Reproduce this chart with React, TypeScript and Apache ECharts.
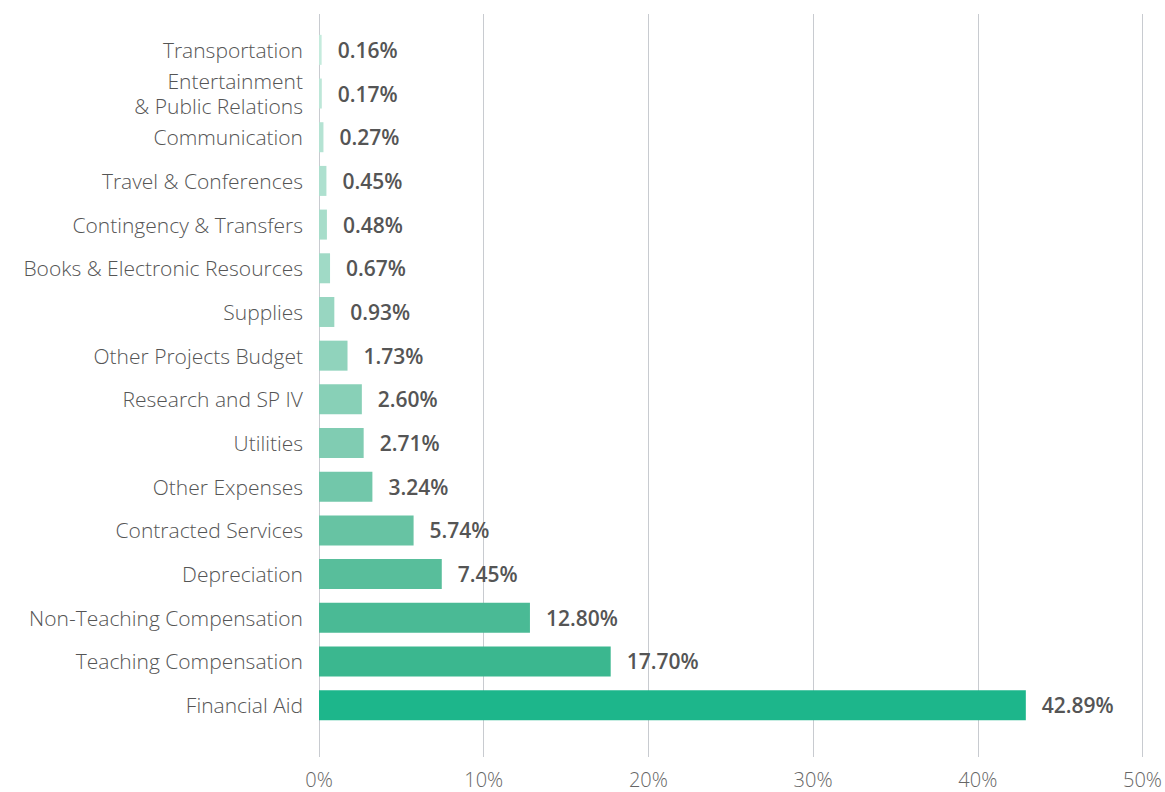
import React, { useEffect, useRef } from "react";
import * as echarts from "echarts";

const categories = [
  "Transportation",
  "Entertainment\n& Public Relations",
  "Communication",
  "Travel & Conferences",
  "Contingency & Transfers",
  "Books & Electronic Resources",
  "Supplies",
  "Other Projects Budget",
  "Research and SP IV",
  "Utilities",
  "Other Expenses",
  "Contracted Services",
  "Depreciation",
  "Non-Teaching Compensation",
  "Teaching Compensation",
  "Financial Aid",
];

const values = [0.16, 0.17, 0.27, 0.45, 0.48, 0.67, 0.93, 1.73, 2.6, 2.71, 3.24, 5.74, 7.45, 12.8, 17.7, 42.89];

const barColors = [
  "#c5ebdd", "#bde7d8", "#b5e3d3", "#aee0cf", "#a7ddca", "#a0dac6", "#98d6c1", "#90d3bc",
  "#88d0b7", "#80ccb2", "#72c7aa", "#67c3a3", "#58be9b", "#4aba95", "#3bb78f", "#1db68b",
];

const xTicks = [0, 10, 20, 30, 40, 50];

const FONT = "'Open Sans'";

export default function App() {
  const ref = useRef<HTMLDivElement>(null);
  useEffect(() => {
    document.body.style.margin = "0";
    const chart = echarts.init(ref.current!, null, { renderer: "svg" });
    chart.setOption({
      animation: false,
      grid: [
        { left: 319, right: 22, top: 14, bottom: 35 },
        { left: 319, right: 22, top: 28, bottom: 65 },
      ],
      xAxis: [
        {
          type: "value",
          gridIndex: 0,
          min: xTicks[0],
          max: xTicks[xTicks.length - 1],
          interval: 10,
          axisLine: { show: false },
          axisTick: { show: false },
          splitLine: { show: true, lineStyle: { color: "#c8cbd0", width: 1 } },
          axisLabel: {
            formatter: (v: number) => v + "%",
            color: "#666",
            fontSize: 20,
            fontFamily: FONT,
            fontWeight: 300,
            margin: 12,
          },
        },
        {
          type: "value",
          gridIndex: 1,
          min: 0,
          max: 50,
          interval: 10,
          show: false,
        },
      ],
      yAxis: [
        {
          type: "category",
          gridIndex: 0,
          show: false,
          data: categories,
        },
        {
          type: "category",
          gridIndex: 1,
          inverse: true,
          data: categories,
          axisLine: { show: true, lineStyle: { color: "#c8cbd0" } },
          axisTick: { show: false },
          axisLabel: {
            color: "#555",
            fontSize: 21,
            fontFamily: FONT,
            fontWeight: 300,
            margin: 16,
            lineHeight: 25,
            align: "right",
          },
        },
      ],
      series: [
        {
          type: "bar",
          xAxisIndex: 1,
          yAxisIndex: 1,
          barWidth: 30,
          data: values.map((v, i) => ({ value: v, itemStyle: { color: barColors[i] } })),
          label: {
            show: true,
            position: "right",
            distance: 16,
            formatter: (p: any) => p.value.toFixed(2) + "%",
            color: "#555",
            fontSize: 21,
            fontWeight: 600,
            fontFamily: FONT,
          },
        },
      ],
    });
    return () => chart.dispose();
  }, []);
  return <div ref={ref} style={{ width: 1165, height: 792 }} />;
}
